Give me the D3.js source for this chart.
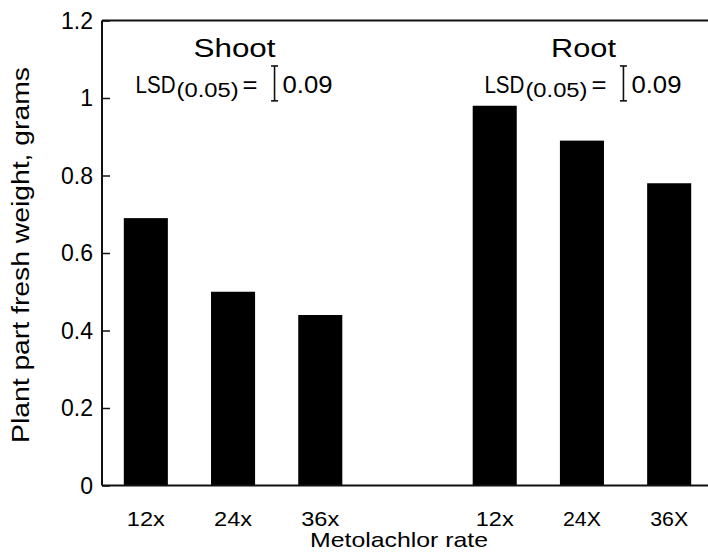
<!DOCTYPE html>
<html>
<head>
<meta charset="utf-8">
<script src="https://cdn.jsdelivr.net/npm/d3@7"></script>
<style>
  html, body { margin: 0; padding: 0; background: #fff; }
  svg { display: block; font-family: "Liberation Sans", Arial, Helvetica, sans-serif; }
</style>
</head>
<body>
<svg id="chart" width="708" height="552"></svg>
<script>
// Fresh weight of shoots and roots at three metolachlor rates
const groups = ["Shoot", "Root"];
const shootRates = ["12x", "24x", "36x"];
const rootRates = ["12x", "24X", "36X"];
const shootValues = [0.69, 0.50, 0.44];
const rootValues = [0.98, 0.89, 0.78];
const lsdValues = [0.09, 0.09];
const yTicks = [0, 0.2, 0.4, 0.6, 0.8, 1, 1.2];
const yTickLabels = ["0", "0.2", "0.4", "0.6", "0.8", "1", "1.2"];
const xTitle = "Metolachlor rate";
const yTitle = "Plant part fresh weight, grams";

// one slot per bar, with an empty slot between the two plant parts
const bars = [
  ...shootRates.map((r, i) => ({ slot: "s" + i, label: r, value: shootValues[i] })),
  ...rootRates.map((r, i) => ({ slot: "r" + i, label: r, value: rootValues[i] }))
];
const slots = ["s0", "s1", "s2", "gap", "r0", "r1", "r2"];

const svg = d3.select("#chart");
const plotLeft = 102, plotRight = 713, plotTop = 20.5, plotBottom = 485.5;

const x = d3.scaleBand().domain(slots).range([plotLeft, plotRight])
  .paddingInner(0.495).paddingOuter(0.25);
const y = d3.scaleLinear().domain([0, 1.2]).range([plotBottom, plotTop]);

// widen a text run to a set length (the typeface runs wide)
function stretch(sel, len) {
  sel.attr("textLength", len).attr("lengthAdjust", "spacingAndGlyphs");
  return sel;
}

// bars
svg.append("g").selectAll("rect").data(bars).join("rect")
  .attr("x", d => x(d.slot))
  .attr("width", x.bandwidth())
  .attr("y", d => y(d.value))
  .attr("height", d => y(0) - y(d.value))
  .attr("fill", "#000");

// frame: top and bottom rules
const frame = svg.append("g").attr("stroke", "#111").attr("stroke-width", 2).attr("fill", "none");
frame.append("line").attr("x1", plotLeft).attr("x2", 708).attr("y1", y(1.2)).attr("y2", y(1.2));
frame.append("line").attr("x1", plotLeft).attr("x2", 708).attr("y1", y(0)).attr("y2", y(0));

// y axis with inward ticks
const yAxis = d3.axisRight(y).tickValues(yTicks).tickSize(8).tickFormat(() => "");
const ya = svg.append("g").attr("transform", `translate(${plotLeft},0)`).call(yAxis);
ya.select(".domain").attr("stroke", "#111").attr("stroke-width", 2).attr("d", `M0,${y(1.2)}V${y(0)}`);
ya.selectAll(".tick line").attr("stroke", "#111").attr("stroke-width", 1.5);

svg.append("g").selectAll("text").data(yTicks).join("text")
  .attr("x", 93)
  .attr("y", d => y(d))
  .attr("dy", "0.36em")
  .attr("text-anchor", "end")
  .attr("font-size", 23)
  .text((d, i) => yTickLabels[i]);

// x category labels
svg.append("g").selectAll("text").data(bars).join("text")
  .attr("x", d => x(d.slot) + x.bandwidth() / 2)
  .attr("y", 526)
  .attr("text-anchor", "middle")
  .attr("font-size", 21)
  .attr("textLength", 38)
  .attr("lengthAdjust", "spacingAndGlyphs")
  .text(d => d.label);

// axis titles
stretch(svg.append("text")
  .attr("x", 399).attr("y", 547)
  .attr("text-anchor", "middle")
  .attr("font-size", 21)
  .text(xTitle), 178);

stretch(svg.append("text")
  .attr("transform", `translate(29,${y(0.6) + 2}) rotate(-90)`)
  .attr("text-anchor", "middle")
  .attr("font-size", 23)
  .text(yTitle), 376);

// group titles with LSD bracket
const groupCenters = [x("s1") + x.bandwidth() / 2, x("r1") + x.bandwidth() / 2];
const titleLens = [82, 65];
groups.forEach((g, i) => {
  const cx = groupCenters[i];
  stretch(svg.append("text")
    .attr("x", cx + 1.5).attr("y", 57)
    .attr("text-anchor", "middle")
    .attr("font-size", 26)
    .text(g), titleLens[i]);

  const bx = cx + 41.5;
  const base = 93;
  stretch(svg.append("text").attr("x", bx - 139).attr("y", base)
    .attr("font-size", 24).text("LSD"), 40);
  stretch(svg.append("text").attr("x", bx - 98).attr("y", base + 4)
    .attr("font-size", 20).text("(0.05)"), 62);
  stretch(svg.append("text").attr("x", bx - 32).attr("y", base)
    .attr("font-size", 24).text("="), 15);
  stretch(svg.append("text").attr("x", bx + 8).attr("y", base)
    .attr("font-size", 24).text(lsdValues[i].toFixed(2)), 50);

  // I-beam bracket spanning the LSD on the value axis
  const h = y(0) - y(lsdValues[i]);
  const midY = 83.4;
  const br = svg.append("g").attr("stroke", "#111").attr("stroke-width", 1.6);
  br.append("line").attr("x1", bx).attr("x2", bx).attr("y1", midY - h / 2).attr("y2", midY + h / 2);
  br.append("line").attr("x1", bx - 3.5).attr("x2", bx + 3.5).attr("y1", midY - h / 2).attr("y2", midY - h / 2);
  br.append("line").attr("x1", bx - 3.5).attr("x2", bx + 3.5).attr("y1", midY + h / 2).attr("y2", midY + h / 2);
});
</script>
</body>
</html>
